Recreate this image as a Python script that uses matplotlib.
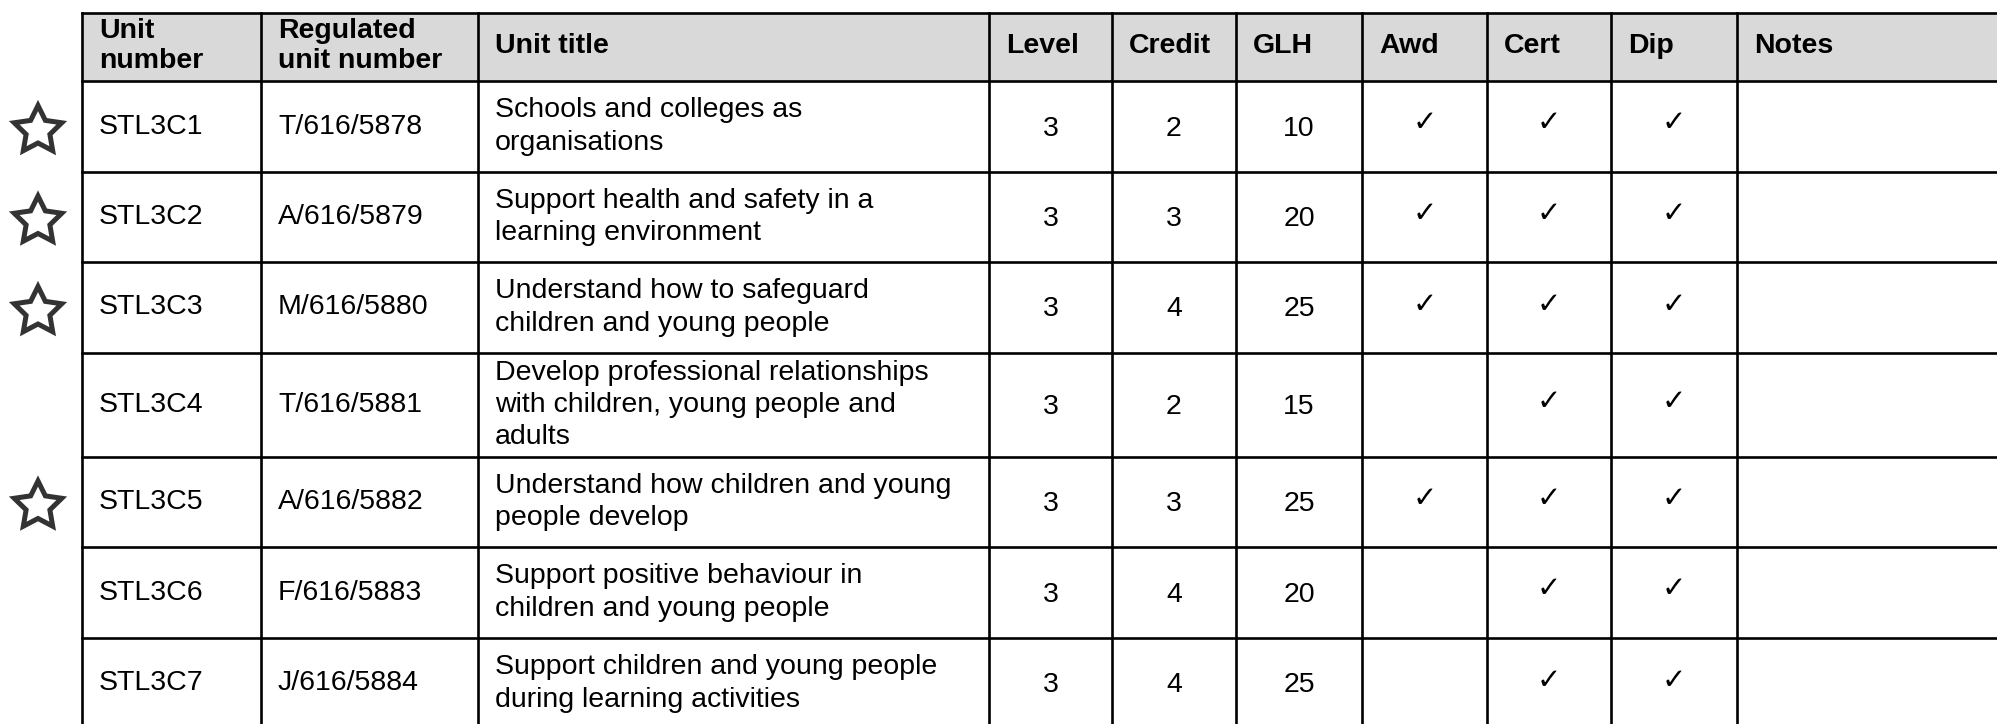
import matplotlib
matplotlib.use("Agg")
import matplotlib.pyplot as plt
from matplotlib.patches import Rectangle, Polygon
import numpy as np

# ---- data ----
headers = ["Unit\nnumber", "Regulated\nunit number", "Unit title", "Level", "Credit",
           "GLH", "Awd", "Cert", "Dip", "Notes"]
unit_numbers = ["STL3C1", "STL3C2", "STL3C3", "STL3C4", "STL3C5", "STL3C6", "STL3C7"]
regulated_numbers = ["T/616/5878", "A/616/5879", "M/616/5880", "T/616/5881",
                     "A/616/5882", "F/616/5883", "J/616/5884"]
unit_titles = [
    "Schools and colleges as\norganisations",
    "Support health and safety in a\nlearning environment",
    "Understand how to safeguard\nchildren and young people",
    "Develop professional relationships\nwith children, young people and\nadults",
    "Understand how children and young\npeople develop",
    "Support positive behaviour in\nchildren and young people",
    "Support children and young people\nduring learning activities",
]
levels = [3, 3, 3, 3, 3, 3, 3]
credits = [2, 3, 4, 2, 3, 4, 4]
glh = [10, 20, 25, 15, 25, 20, 25]
awd = [True, True, True, False, True, False, False]
cert = [True, True, True, True, True, True, True]
dip = [True, True, True, True, True, True, True]
notes = ["", "", "", "", "", "", ""]
starred = [True, True, True, False, True, False, False]

# ---- layout (pixels) ----
W, H = 1997, 724
col_edges = [82, 261, 478, 989, 1112, 1236, 1362, 1487, 1611, 1737, 2010]
row_edges = [13, 81, 172, 262, 353, 457, 547, 638, 729]
pad = 17
FONT = ["Liberation Sans", "DejaVu Sans"]
fs = 20.5
lw = 1.9
header_fill = "#d9d9d9"

fig = plt.figure(figsize=(W / 100, H / 100), dpi=100)
ax = fig.add_axes([0, 0, 1, 1])
ax.set_xlim(0, W)
ax.set_ylim(H, 0)
ax.axis("off")

# header background
ax.add_patch(Rectangle((col_edges[0], row_edges[0]), col_edges[-1] - col_edges[0],
                       row_edges[1] - row_edges[0], facecolor=header_fill,
                       edgecolor="none", zorder=0))

# grid lines
for y in row_edges:
    ax.plot([col_edges[0], col_edges[-1]], [y, y], color="black", lw=lw,
            solid_capstyle="projecting", zorder=3)
for x in col_edges[:-1]:
    ax.plot([x, x], [row_edges[0], row_edges[-1]], color="black", lw=lw,
            solid_capstyle="projecting", zorder=3)

left_cols = {0, 1, 2, 9}

# header text
hy = (row_edges[0] + row_edges[1]) / 2 - 1
for j, h in enumerate(headers):
    ax.text(col_edges[j] + pad, hy, h, ha="left", va="center", fontsize=fs,
            fontweight="bold", family=FONT, linespacing=1.15, zorder=4)

# body
for i in range(len(unit_numbers)):
    cy = (row_edges[i + 1] + row_edges[i + 2]) / 2
    row_vals = [unit_numbers[i], regulated_numbers[i], unit_titles[i],
                str(levels[i]), str(credits[i]), str(glh[i])]
    for j, v in enumerate(row_vals):
        if j in left_cols:
            ax.text(col_edges[j] + pad, cy, v, ha="left", va="center", fontsize=fs,
                    family=FONT, linespacing=1.32, zorder=4)
        else:
            cx = (col_edges[j] + col_edges[j + 1]) / 2
            ax.text(cx, cy + 2, v, ha="center", va="center", fontsize=fs,
                    family=FONT, zorder=4)
    for j, flag in zip([6, 7, 8], [awd[i], cert[i], dip[i]]):
        if flag:
            cx = (col_edges[j] + col_edges[j + 1]) / 2
            ax.text(cx, cy - 3, "\u2713", ha="center", va="center", fontsize=21,
                    family=["DejaVu Sans"], zorder=4)
    if notes[i]:
        ax.text(col_edges[9] + pad, cy, notes[i], ha="left", va="center",
                fontsize=fs, family=FONT, zorder=4)
    if starred[i]:
        R, r = 25, 12.5
        sx, sy = 38, cy + 4
        ang = np.deg2rad(-90 + np.arange(10) * 36)
        rad = np.where(np.arange(10) % 2 == 0, R, r)
        pts = np.column_stack([sx + rad * np.cos(ang), sy + rad * np.sin(ang)])
        ax.add_patch(Polygon(pts, closed=True, facecolor="none", edgecolor="#333333",
                             lw=3.6, joinstyle="miter", zorder=4))

fig.savefig("out.png", dpi=100)
